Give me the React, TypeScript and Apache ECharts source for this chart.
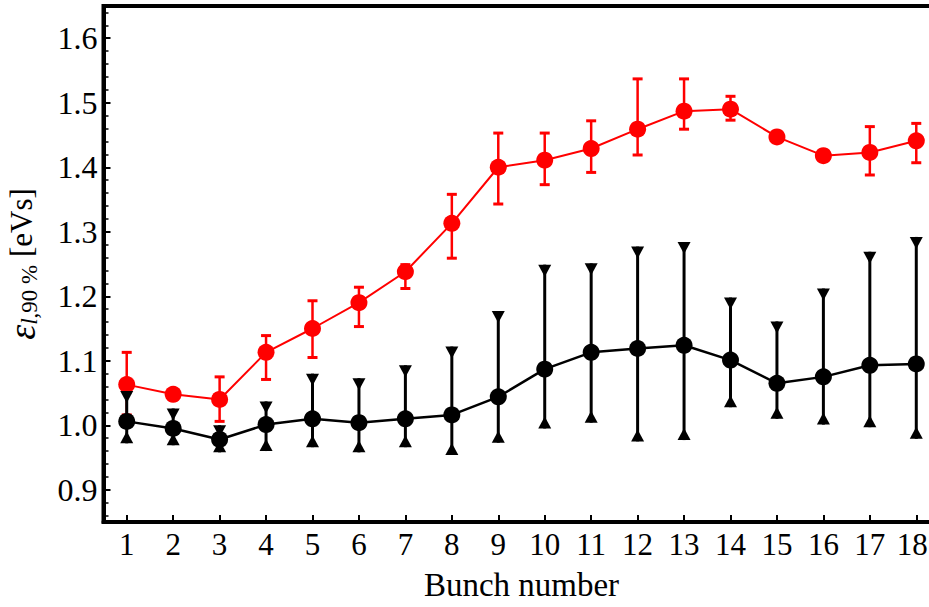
import React, { useEffect, useRef } from "react";
import * as echarts from "echarts";

const bunches = ["1","2","3","4","5","6","7","8","9","10","11","12","13","14","15","16","17","18"];

const redValues = [1.063,1.048,1.040,1.113,1.150,1.190,1.238,1.313,1.400,1.411,1.429,1.459,1.487,1.490,1.447,1.418,1.423,1.441];
const redLow    = [1.016,1.044,1.006,1.071,1.105,1.153,1.212,1.259,1.343,1.373,1.392,1.419,1.459,1.473,1.440,1.414,1.388,1.407];
const redHigh   = [1.113,1.052,1.075,1.139,1.193,1.214,1.249,1.358,1.453,1.453,1.472,1.537,1.537,1.510,1.453,1.422,1.463,1.468];

const blackValues = [1.006,0.995,0.978,1.001,1.010,1.004,1.010,1.016,1.044,1.087,1.113,1.119,1.124,1.101,1.065,1.075,1.093,1.095];
const blackLow    = [0.972,0.969,0.958,0.960,0.966,0.958,0.966,0.954,0.973,0.995,1.004,0.975,0.977,1.028,1.010,1.001,0.997,0.979];
const blackHigh   = [1.053,1.026,1.000,1.037,1.080,1.073,1.093,1.122,1.177,1.249,1.251,1.277,1.284,1.198,1.161,1.212,1.269,1.292];

const yMajorTicks = [0.9,1.0,1.1,1.2,1.3,1.4,1.5,1.6];
const yMinorTicks = [0.86,0.88,0.92,0.94,0.96,0.98,1.02,1.04,1.06,1.08,1.12,1.14,1.16,1.18,1.22,1.24,1.26,1.28,1.32,1.34,1.36,1.38,1.42,1.44,1.46,1.48,1.52,1.54,1.56,1.58,1.62,1.64];

const FONT = "Liberation Serif";

export default function App() {
  const ref = useRef<HTMLDivElement>(null);
  useEffect(() => {
    if (!ref.current) return;
    const chart = echarts.init(ref.current, null, { renderer: "svg" });
    const redErr = redValues.map((_, i) => [i, redLow[i], redHigh[i]]);
    const blackErr = blackValues.map((_, i) => [i, blackLow[i], blackHigh[i]]);

    const barCapRender = (params: any, api: any) => {
      const x = api.value(0);
      const lo = api.coord([x, api.value(1)]);
      const hi = api.coord([x, api.value(2)]);
      const c = "#ff0000";
      const hw = 5;
      return {
        type: "group",
        children: [
          { type: "line", shape: { x1: lo[0], y1: lo[1], x2: hi[0], y2: hi[1] }, style: { stroke: c, lineWidth: 2.5 } },
          { type: "line", shape: { x1: lo[0] - hw, y1: lo[1], x2: lo[0] + hw, y2: lo[1] }, style: { stroke: c, lineWidth: 3 } },
          { type: "line", shape: { x1: hi[0] - hw, y1: hi[1], x2: hi[0] + hw, y2: hi[1] }, style: { stroke: c, lineWidth: 3 } },
        ],
      };
    };

    const triCapRender = (params: any, api: any) => {
      const x = api.value(0);
      const lo = api.coord([x, api.value(1)]);
      const hi = api.coord([x, api.value(2)]);
      const c = "#000000";
      const hw = 6.5;
      const h = 12;
      return {
        type: "group",
        children: [
          { type: "line", shape: { x1: lo[0], y1: lo[1], x2: hi[0], y2: hi[1] }, style: { stroke: c, lineWidth: 3 } },
          { type: "polygon", shape: { points: [[hi[0] - hw, hi[1]], [hi[0] + hw, hi[1]], [hi[0], hi[1] + h]] }, style: { fill: c } },
          { type: "polygon", shape: { points: [[lo[0] - hw, lo[1]], [lo[0] + hw, lo[1]], [lo[0], lo[1] - h]] }, style: { fill: c } },
        ],
      };
    };

    chart.setOption({
      animation: false,
      backgroundColor: "#ffffff",
      grid: {
        left: 103.5,
        top: 6,
        width: 836,
        height: 516,
        show: true,
        borderColor: "#000",
        borderWidth: 4,
        backgroundColor: "transparent",
        containLabel: false,
        outerBoundsMode: "none",
      },
      xAxis: {
        type: "category",
        data: bunches,
        boundaryGap: true,
        name: "Bunch number",
        nameLocation: "middle",
        nameGap: 45,
        nameTextStyle: { fontFamily: FONT, fontSize: 33, lineHeight: 36, color: "#000" },
        axisLine: { show: true, lineStyle: { color: "#000", width: 4 } },
        axisTick: { show: true, inside: true, alignWithLabel: true, length: 7, lineStyle: { color: "#000", width: 2 } },
        axisLabel: {
          fontFamily: FONT,
          fontSize: 31,
          color: "#000",
          margin: 7,
          interval: 0,
          formatter: (v: string, i: number) => (i === bunches.length - 1 ? "{last|" + v + "}" : v),
          rich: {
            last: { fontFamily: FONT, fontSize: 31, color: "#000", padding: [0, 8, 0, 0] },
          },
        },
        splitLine: { show: false },
      },
      yAxis: [
        {
          type: "value",
          min: 0.85,
          max: 1.65,
          name: "{e|ε}{s|l}{t|,90 %}{u| [eVs]}",
          nameLocation: "middle",
          nameGap: 63,
          nameTextStyle: {
            fontFamily: FONT,
            color: "#000",
            rich: {
              e: { fontFamily: FONT, fontSize: 38, fontStyle: "italic", lineHeight: 38, color: "#000" },
              s: { fontFamily: FONT, fontSize: 23, fontStyle: "italic", lineHeight: 23, padding: [13, 0, 0, 0], verticalAlign: "bottom", color: "#000" },
              t: { fontFamily: FONT, fontSize: 23, lineHeight: 23, padding: [13, 0, 0, 0], verticalAlign: "bottom", color: "#000" },
              u: { fontFamily: FONT, fontSize: 31, lineHeight: 38, color: "#000" },
            },
          },
          axisLine: { show: true, lineStyle: { color: "#000", width: 4 } },
          axisTick: { show: true, inside: true, length: 7, customValues: yMajorTicks, lineStyle: { color: "#000", width: 2 } },
          axisLabel: {
            fontFamily: FONT,
            fontSize: 32,
            color: "#000",
            margin: 6,
            customValues: yMajorTicks,
            formatter: (v: number) => v.toFixed(1),
          },
          splitLine: { show: false },
        },
        {
          type: "value",
          min: 0.85,
          max: 1.65,
          position: "left",
          axisLine: { show: false },
          axisTick: { show: true, inside: true, length: 5, customValues: yMinorTicks, lineStyle: { color: "#000", width: 1.5 } },
          axisLabel: { show: false },
          splitLine: { show: false },
        },
      ],
      series: [
        {
          type: "custom",
          renderItem: barCapRender,
          data: redErr,
          encode: { x: 0, y: [1, 2] },
          z: 2,
        },
        {
          type: "line",
          data: redValues,
          symbol: "circle",
          symbolSize: 17,
          itemStyle: { color: "#ff0000" },
          lineStyle: { color: "#ff0000", width: 2 },
          z: 3,
        },
        {
          type: "custom",
          renderItem: triCapRender,
          data: blackErr,
          encode: { x: 0, y: [1, 2] },
          z: 4,
        },
        {
          type: "line",
          data: blackValues,
          symbol: "circle",
          symbolSize: 17,
          itemStyle: { color: "#000000" },
          lineStyle: { color: "#000000", width: 2.5 },
          z: 5,
        },
      ],
    });
    return () => chart.dispose();
  }, []);

  return (
    <div style={{ position: "fixed", left: 0, top: 0, width: 929, height: 607, overflow: "hidden", background: "#fff" }}>
      <div ref={ref} style={{ width: 960, height: 607 }} />
    </div>
  );
}
